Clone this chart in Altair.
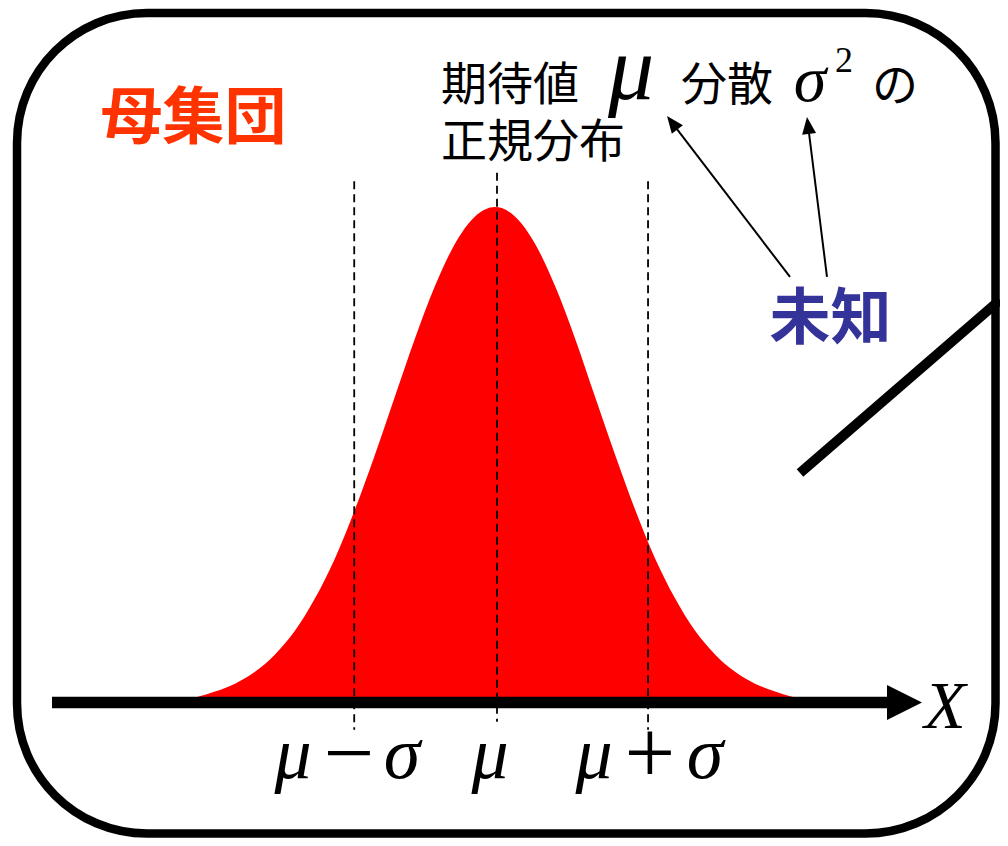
import altair as alt
import pandas as pd

# ---- data -----------------------------------------------------------------
# x in units of sigma (mu = 0), y = height relative to the peak
curve_x = [-2.034, -1.912, -1.776, -1.641, -1.505, -1.369, -1.234, -1.098,
           -0.963, -0.827, -0.692, -0.556, -0.420, -0.285, -0.149, -0.014,
           0.122, 0.258, 0.393, 0.529, 0.664, 0.800, 0.936, 1.071,
           1.207, 1.342, 1.478, 1.614, 1.749, 1.885, 2.007]
curve_y = [0.012, 0.023, 0.039, 0.063, 0.098, 0.146, 0.211, 0.292,
           0.390, 0.501, 0.618, 0.735, 0.841, 0.926, 0.981, 1.000,
           0.981, 0.926, 0.841, 0.735, 0.618, 0.501, 0.390, 0.292,
           0.211, 0.146, 0.098, 0.063, 0.039, 0.023, 0.012]

guide_x = [-0.968, 0.0, 1.024]
guide_top = [1.052, 1.069, 1.052]
guide_bottom = [-0.054, -0.038, -0.054]

# tick-like labels under the axis: symbols (italic) and operators (upright)
label_symbols = ["μ", "σ", "μ", "μ", "σ"]
label_symbol_x = [-1.383, -0.644, -0.047, 0.658, 1.410]
label_ops = ["−", "+"]
label_op_x = [-1.003, 1.037]

# ---- scales -----------------------------------------------------------------
XDOM = [-3.3153, 3.4102]
YDOM = [-0.2722, 1.4012]


def X(field="x"):
    return alt.X(f"{field}:Q", scale=alt.Scale(domain=XDOM, nice=False, zero=False), axis=None)


def Y(field="y"):
    return alt.Y(f"{field}:Q", scale=alt.Scale(domain=YDOM, nice=False, zero=False), axis=None)


CJK = "Noto Sans CJK JP"
SERIF = "Liberation Serif"

# frame (rounded rectangle)
frame = alt.Chart(pd.DataFrame({"x": [-3.2542], "x2": [3.3797], "y": [1.3911], "y2": [-0.2631]})).mark_rect(
    cornerRadius=130, fill="white", stroke="black", strokeWidth=8.5
).encode(x=X(), x2="x2:Q", y=Y(), y2="y2:Q")

# red normal curve
curve = alt.Chart(pd.DataFrame({"x": curve_x, "y": curve_y})).mark_area(
    color="#FF0000", interpolate="monotone", opacity=1
).encode(x=X(), y=Y(), y2=alt.datum(0.0))

# dashed guides
guides = alt.Chart(pd.DataFrame({"x": guide_x, "y": guide_top, "y2": guide_bottom})).mark_rule(
    color="black", strokeWidth=1.8, strokeDash=[8, 5]
).encode(x=X(), y=Y(), y2="y2:Q")

# X axis arrow
axis_line = alt.Chart(pd.DataFrame({"x": [-3.017], "x2": [2.664], "y": [0.001]})).mark_rule(
    color="black", strokeWidth=11.5
).encode(x=X(), x2="x2:Q", y=Y())
axis_head = alt.Chart(pd.DataFrame({"x": [2.7627], "y": [0.001]})).mark_point(
    shape="M-1,-1L1,0L-1,1Z", size=1225, filled=True, color="black", opacity=1, strokeWidth=0
).encode(x=X(), y=Y())

# thick diagonal line at right
diag = alt.Chart(pd.DataFrame({"x": [2.0542], "x2": [3.4102], "y": [0.4637], "y2": [0.8125]})).mark_rule(
    color="black", strokeWidth=10
).encode(x=X(), x2="x2:Q", y=Y(), y2="y2:Q")

# thin annotation arrows (from 未知 to mu and sigma^2)
arrow_lines = alt.Chart(pd.DataFrame({
    "x": [1.9864, 2.2373], "y": [0.8589, 0.8589],
    "x2": [1.1878, 2.1088], "y2": [1.1698, 1.1645]})).mark_rule(
    color="black", strokeWidth=2
).encode(x=X(), x2="x2:Q", y=Y(), y2="y2:Q")
arrow_heads = alt.Chart(pd.DataFrame({
    "x": [1.1878, 2.1088], "y": [1.1698, 1.1645], "a": [322.6, 352.9]})).mark_point(
    shape="M0,-1L-0.8235,1L0.8235,1Z", size=289, filled=True, color="black", opacity=1, strokeWidth=0
).encode(x=X(), y=Y(), angle=alt.Angle("a:Q", scale=None))

# texts
title_red = alt.Chart(pd.DataFrame({"x": [-2.688], "y": [1.1371], "t": ["母集団"]})).mark_text(
    font=CJK, fontSize=62, fontWeight="bold", color="#FF3300", align="left", baseline="alphabetic"
).encode(x=X(), y=Y(), text="t:N")

unknown = alt.Chart(pd.DataFrame({"x": [1.8475], "y": [0.7339], "t": ["未知"]})).mark_text(
    font=CJK, fontSize=61, fontWeight="bold", color="#333399", align="left", baseline="alphabetic"
).encode(x=X(), y=Y(), text="t:N")

cjk_black = alt.Chart(pd.DataFrame({
    "x": [-0.3797, -0.3797, 1.2475, 2.5424],
    "y": [1.2167, 1.1008, 1.2167, 1.2137],
    "t": ["期待値", "正規分布", "分散", "の"]})).mark_text(
    font=CJK, fontSize=46, color="black", align="left", baseline="alphabetic"
).encode(x=X(), y=Y(), text="t:N")

math_italic = alt.Chart(pd.DataFrame({
    "x": [0.9085, 2.122, 3.037] + label_symbol_x,
    "y": [1.2177, 1.2137, -0.0504] + [-0.151] * len(label_symbol_x),
    "fs": [92, 66, 68] + [74] * len(label_symbol_x),
    "t": ["μ", "σ", "X"] + label_symbols})).mark_text(
    font=SERIF, fontStyle="italic", color="black", align="center", baseline="alphabetic"
).encode(x=X(), y=Y(), text="t:N", size=alt.Size("fs:Q", scale=None))

ops = alt.Chart(pd.DataFrame({"x": label_op_x, "y": [-0.162] * len(label_op_x), "t": label_ops})).mark_text(
    font=SERIF, fontSize=90, color="black", align="center", baseline="alphabetic"
).encode(x=X(), y=Y(), text="t:N")

sup2 = alt.Chart(pd.DataFrame({"x": [2.3525], "y": [1.2722], "t": ["2"]})).mark_text(
    font=SERIF, fontSize=36, color="black", align="center", baseline="alphabetic"
).encode(x=X(), y=Y(), text="t:N")

chart = alt.layer(
    frame, curve, guides, axis_line, axis_head, diag, arrow_lines, arrow_heads,
    title_red, unknown, cjk_black, math_italic, ops, sup2
).properties(
    width=992, height=830, padding=0, autosize="none", background="white"
).configure_view(stroke=None)

chart.save("out.html", embed_options={"renderer": "svg", "actions": False})
